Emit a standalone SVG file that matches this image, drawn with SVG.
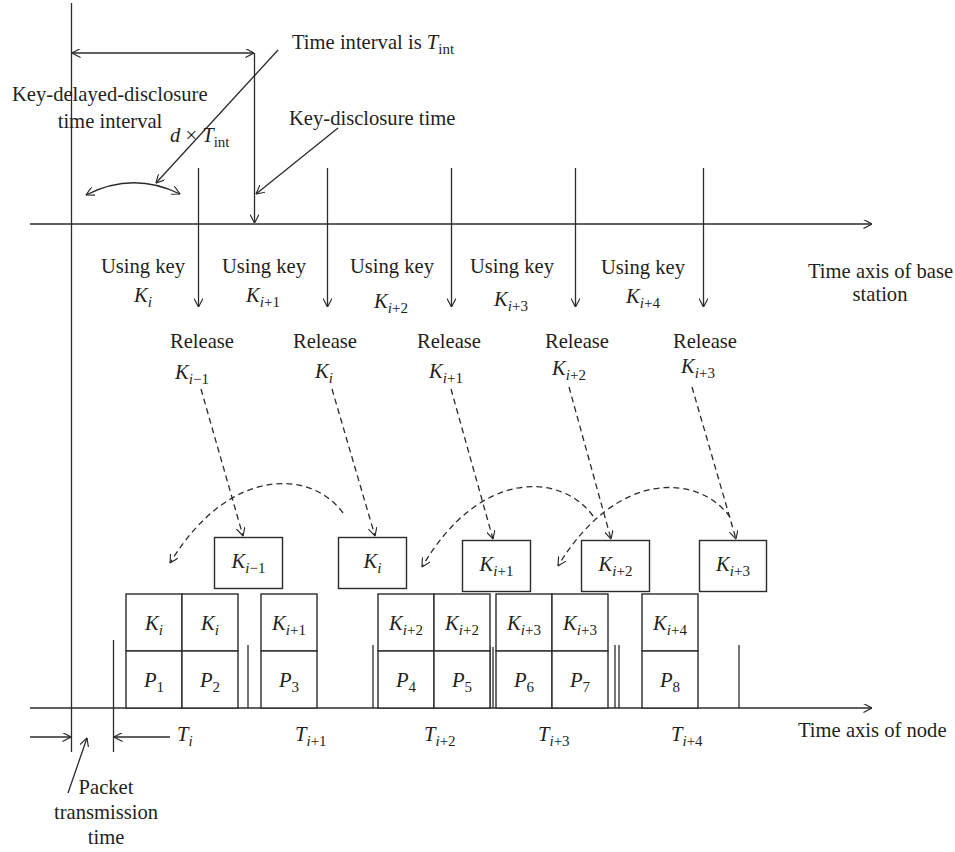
<svg xmlns="http://www.w3.org/2000/svg" width="955" height="852" viewBox="0 0 955 852">
<style>
.ln{stroke:#2b2b2b;stroke-width:1.3;fill:none}
.ds{stroke-dasharray:6 4}
.bx{fill:#fff;stroke:#2b2b2b;stroke-width:1.4}
text{font-family:"Liberation Serif","Times New Roman",serif;font-size:20.6px;fill:#231f20}
.it{font-style:italic}
.sb{font-size:15px}
.m{text-anchor:middle}
</style>
<defs>
<marker id="ah" viewBox="0 0 10 10" refX="9.5" refY="5" markerWidth="9" markerHeight="9" markerUnits="userSpaceOnUse" orient="auto-start-reverse">
<path d="M0,0 L9.5,5 L0,10" fill="none" stroke="#2b2b2b" stroke-width="1.3"/>
</marker>
</defs>
<rect width="955" height="852" fill="#fff"/>

<g id="connectors">
<line class="ln" x1="71.5" y1="3" x2="71.5" y2="752"/>
<line class="ln" x1="30" y1="224" x2="872" y2="224" marker-end="url(#ah)"/>
<line class="ln" x1="30" y1="708" x2="872" y2="708" marker-end="url(#ah)"/>
<line class="ln" x1="72" y1="53" x2="254" y2="53" marker-start="url(#ah)" marker-end="url(#ah)"/>
<line class="ln" x1="254.5" y1="53" x2="254.5" y2="223" marker-end="url(#ah)"/>
<line class="ln" x1="278" y1="50" x2="156" y2="183" marker-end="url(#ah)"/>
<line class="ln" x1="338" y1="128" x2="256" y2="194" marker-end="url(#ah)"/>
<path class="ln" d="M86,195 Q133,171 180,194" marker-start="url(#ah)" marker-end="url(#ah)"/>
<line class="ln" x1="198.5" y1="168" x2="198.5" y2="307" marker-end="url(#ah)"/>
<line class="ln" x1="327.5" y1="168" x2="327.5" y2="307" marker-end="url(#ah)"/>
<line class="ln" x1="451.5" y1="168" x2="451.5" y2="307" marker-end="url(#ah)"/>
<line class="ln" x1="575.5" y1="168" x2="575.5" y2="307" marker-end="url(#ah)"/>
<line class="ln" x1="703.5" y1="168" x2="703.5" y2="307" marker-end="url(#ah)"/>
<line class="ln ds" x1="201" y1="389" x2="243" y2="536" marker-end="url(#ah)"/>
<line class="ln ds" x1="332" y1="389" x2="375" y2="536" marker-end="url(#ah)"/>
<line class="ln ds" x1="451" y1="389" x2="493" y2="539" marker-end="url(#ah)"/>
<line class="ln ds" x1="569" y1="387" x2="611" y2="539" marker-end="url(#ah)"/>
<line class="ln ds" x1="692" y1="387" x2="736" y2="539" marker-end="url(#ah)"/>
<path class="ln ds" d="M343,513 c-30,-42 -112,-50 -173,50" marker-end="url(#ah)"/>
<path class="ln ds" d="M593,516 c-30,-42 -112,-50 -171,51" marker-end="url(#ah)"/>
<path class="ln ds" d="M730,517 c-30,-42 -112,-50 -172,49" marker-end="url(#ah)"/>
<line class="ln" x1="113.5" y1="640" x2="113.5" y2="752"/>
<line class="ln" x1="248" y1="645" x2="248" y2="708"/>
<line class="ln" x1="373" y1="645" x2="373" y2="708"/>
<line class="ln" x1="490" y1="647" x2="490" y2="708"/>
<line class="ln" x1="493" y1="647" x2="493" y2="708"/>
<line class="ln" x1="615" y1="645" x2="615" y2="708"/>
<line class="ln" x1="619" y1="645" x2="619" y2="708"/>
<line class="ln" x1="739" y1="645" x2="739" y2="708"/>
<line class="ln" x1="30" y1="737" x2="71" y2="737" marker-end="url(#ah)"/>
<line class="ln" x1="170" y1="737" x2="114" y2="737" marker-end="url(#ah)"/>
<line class="ln" x1="68" y1="793" x2="87" y2="738" marker-end="url(#ah)"/>
</g>

<g id="labels-top">
<text x="292" y="49">Time interval is <tspan class="it">T</tspan><tspan class="sb" dy="5">int</tspan></text>
<text x="289" y="125">Key-disclosure time</text>
<text x="12" y="101">Key-delayed-disclosure</text>
<text x="110" y="128" class="m">time interval</text>
<text x="170" y="142"><tspan class="it">d</tspan> × <tspan class="it">T</tspan><tspan class="sb" dy="5">int</tspan></text>
<text x="808" y="278">Time axis of base</text>
<text x="880" y="301" class="m">station</text>
</g>

<g id="using-keys">
<text x="143" y="273" class="m">Using key</text>
<text x="143" y="302" class="m"><tspan class="it">K</tspan><tspan class="sb it" dy="5">i</tspan></text>
<text x="264" y="273" class="m">Using key</text>
<text x="263" y="302" class="m"><tspan class="it">K</tspan><tspan class="sb" dy="5"><tspan class="it">i</tspan>+1</tspan></text>
<text x="392" y="273" class="m">Using key</text>
<text x="391" y="308" class="m"><tspan class="it">K</tspan><tspan class="sb" dy="5"><tspan class="it">i</tspan>+2</tspan></text>
<text x="512" y="273" class="m">Using key</text>
<text x="511" y="306" class="m"><tspan class="it">K</tspan><tspan class="sb" dy="5"><tspan class="it">i</tspan>+3</tspan></text>
<text x="643" y="274" class="m">Using key</text>
<text x="643" y="303" class="m"><tspan class="it">K</tspan><tspan class="sb" dy="5"><tspan class="it">i</tspan>+4</tspan></text>
</g>

<g id="releases">
<text x="202" y="348" class="m">Release</text>
<text x="192" y="379" class="m"><tspan class="it">K</tspan><tspan class="sb" dy="5"><tspan class="it">i</tspan>−1</tspan></text>
<text x="325" y="348" class="m">Release</text>
<text x="324" y="378" class="m"><tspan class="it">K</tspan><tspan class="sb it" dy="5">i</tspan></text>
<text x="449" y="348" class="m">Release</text>
<text x="446" y="378" class="m"><tspan class="it">K</tspan><tspan class="sb" dy="5"><tspan class="it">i</tspan>+1</tspan></text>
<text x="577" y="348" class="m">Release</text>
<text x="569" y="375" class="m"><tspan class="it">K</tspan><tspan class="sb" dy="5"><tspan class="it">i</tspan>+2</tspan></text>
<text x="705" y="348" class="m">Release</text>
<text x="698" y="373" class="m"><tspan class="it">K</tspan><tspan class="sb" dy="5"><tspan class="it">i</tspan>+3</tspan></text>
</g>

<g id="key-boxes">
<g id="kb1"><rect class="bx" x="214.5" y="537.5" width="68" height="51"/><text x="248.5" y="568" class="m"><tspan class="it">K</tspan><tspan class="sb" dy="5"><tspan class="it">i</tspan>−1</tspan></text></g>
<g id="kb2"><rect class="bx" x="338.5" y="537.5" width="68" height="51"/><text x="372.5" y="568" class="m"><tspan class="it">K</tspan><tspan class="sb it" dy="5">i</tspan></text></g>
<g id="kb3"><rect class="bx" x="462.5" y="540.5" width="68" height="51"/><text x="496.5" y="571" class="m"><tspan class="it">K</tspan><tspan class="sb" dy="5"><tspan class="it">i</tspan>+1</tspan></text></g>
<g id="kb4"><rect class="bx" x="581.5" y="540.5" width="68" height="51"/><text x="615.5" y="571" class="m"><tspan class="it">K</tspan><tspan class="sb" dy="5"><tspan class="it">i</tspan>+2</tspan></text></g>
<g id="kb5"><rect class="bx" x="699.5" y="540.5" width="67" height="51"/><text x="733" y="571" class="m"><tspan class="it">K</tspan><tspan class="sb" dy="5"><tspan class="it">i</tspan>+3</tspan></text></g>
</g>

<g id="packets">
<g id="pk1">
<rect class="bx" x="126" y="594" width="56" height="57"/><rect class="bx" x="126" y="651" width="56" height="57"/>
<text x="154" y="630" class="m"><tspan class="it">K</tspan><tspan class="sb it" dy="5">i</tspan></text>
<text x="154" y="687" class="m"><tspan class="it">P</tspan><tspan class="sb" dy="5">1</tspan></text>
</g>
<g id="pk2">
<rect class="bx" x="182" y="594" width="56" height="57"/><rect class="bx" x="182" y="651" width="56" height="57"/>
<text x="210" y="630" class="m"><tspan class="it">K</tspan><tspan class="sb it" dy="5">i</tspan></text>
<text x="210" y="687" class="m"><tspan class="it">P</tspan><tspan class="sb" dy="5">2</tspan></text>
</g>
<g id="pk3">
<rect class="bx" x="261" y="594" width="56" height="57"/><rect class="bx" x="261" y="651" width="56" height="57"/>
<text x="289" y="630" class="m"><tspan class="it">K</tspan><tspan class="sb" dy="5"><tspan class="it">i</tspan>+1</tspan></text>
<text x="289" y="687" class="m"><tspan class="it">P</tspan><tspan class="sb" dy="5">3</tspan></text>
</g>
<g id="pk4">
<rect class="bx" x="378" y="594" width="56" height="57"/><rect class="bx" x="378" y="651" width="56" height="57"/>
<text x="406" y="630" class="m"><tspan class="it">K</tspan><tspan class="sb" dy="5"><tspan class="it">i</tspan>+2</tspan></text>
<text x="406" y="687" class="m"><tspan class="it">P</tspan><tspan class="sb" dy="5">4</tspan></text>
</g>
<g id="pk5">
<rect class="bx" x="434" y="594" width="56" height="57"/><rect class="bx" x="434" y="651" width="56" height="57"/>
<text x="462" y="630" class="m"><tspan class="it">K</tspan><tspan class="sb" dy="5"><tspan class="it">i</tspan>+2</tspan></text>
<text x="462" y="687" class="m"><tspan class="it">P</tspan><tspan class="sb" dy="5">5</tspan></text>
</g>
<g id="pk6">
<rect class="bx" x="496" y="594" width="56" height="57"/><rect class="bx" x="496" y="651" width="56" height="57"/>
<text x="524" y="630" class="m"><tspan class="it">K</tspan><tspan class="sb" dy="5"><tspan class="it">i</tspan>+3</tspan></text>
<text x="524" y="687" class="m"><tspan class="it">P</tspan><tspan class="sb" dy="5">6</tspan></text>
</g>
<g id="pk7">
<rect class="bx" x="552" y="594" width="56" height="57"/><rect class="bx" x="552" y="651" width="56" height="57"/>
<text x="580" y="630" class="m"><tspan class="it">K</tspan><tspan class="sb" dy="5"><tspan class="it">i</tspan>+3</tspan></text>
<text x="580" y="687" class="m"><tspan class="it">P</tspan><tspan class="sb" dy="5">7</tspan></text>
</g>
<g id="pk8">
<rect class="bx" x="642" y="594" width="56" height="57"/><rect class="bx" x="642" y="651" width="56" height="57"/>
<text x="670" y="630" class="m"><tspan class="it">K</tspan><tspan class="sb" dy="5"><tspan class="it">i</tspan>+4</tspan></text>
<text x="670" y="687" class="m"><tspan class="it">P</tspan><tspan class="sb" dy="5">8</tspan></text>
</g>
</g>

<g id="labels-bottom">
<text x="177" y="741"><tspan class="it">T</tspan><tspan class="sb it" dy="5">i</tspan></text>
<text x="295" y="741"><tspan class="it">T</tspan><tspan class="sb" dy="5"><tspan class="it">i</tspan>+1</tspan></text>
<text x="424" y="741"><tspan class="it">T</tspan><tspan class="sb" dy="5"><tspan class="it">i</tspan>+2</tspan></text>
<text x="538" y="741"><tspan class="it">T</tspan><tspan class="sb" dy="5"><tspan class="it">i</tspan>+3</tspan></text>
<text x="671" y="741"><tspan class="it">T</tspan><tspan class="sb" dy="5"><tspan class="it">i</tspan>+4</tspan></text>
<text x="798" y="737">Time axis of node</text>
<text x="106" y="794" class="m">Packet</text>
<text x="106" y="819" class="m">transmission</text>
<text x="106" y="844" class="m">time</text>
</g>
</svg>
